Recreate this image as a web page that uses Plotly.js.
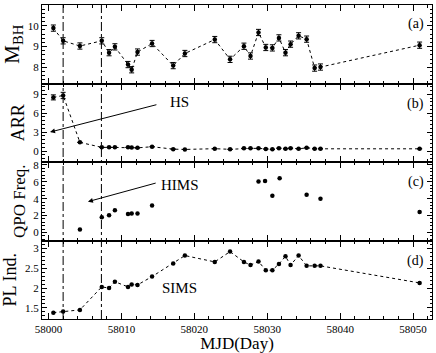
<!DOCTYPE html>
<html>
<head>
<meta charset="utf-8">
<script src="https://cdn.plot.ly/plotly-3.0.1.min.js"></script>
<style>
  body { margin: 0; background: #fff; }
  #plot { width: 436px; height: 353px; }
</style>
</head>
<body>
<div id="plot"></div>
<script>
// MJD of each observation (panels a, b, d)
const mjd = [58000.66, 58002.0, 58004.3, 58007.3, 58008.3, 58009.1, 58010.9, 58011.4, 58012.2,
  58014.2, 58017.1, 58018.7, 58022.8, 58024.9, 58026.8, 58027.7, 58028.8, 58029.8, 58030.7,
  58031.6, 58032.5, 58033.2, 58034.3, 58035.4, 58036.5, 58037.3, 58050.9];
const mass = [9.89, 9.28, 9.03, 9.28, 8.71, 8.99, 8.14, 7.89, 8.74, 9.15, 8.09, 8.67, 9.34,
  8.39, 9.02, 8.55, 9.68, 8.96, 8.94, 9.42, 8.71, 9.12, 9.52, 9.36, 7.97, 8.02, 9.07];
const massErr = [0.15, 0.15, 0.15, 0.15, 0.15, 0.15, 0.15, 0.15, 0.15, 0.15, 0.15, 0.15, 0.15,
  0.15, 0.15, 0.15, 0.15, 0.15, 0.15, 0.15, 0.15, 0.15, 0.15, 0.15, 0.15, 0.15, 0.15];
const arr = [8.5, 8.8, 1.37, 0.58, 0.58, 0.58, 0.58, 0.55, 0.5, 0.68, 0.3, 0.25, 0.37, 0.27,
  0.42, 0.42, 0.42, 0.32, 0.27, 0.45, 0.35, 0.45, 0.35, 0.5, 0.35, 0.35, 0.35];
const arrErr = [0.4, 0.5, 0, 0, 0, 0, 0, 0, 0, 0, 0, 0, 0, 0, 0, 0, 0, 0, 0, 0, 0, 0, 0, 0, 0, 0, 0];
const plInd = [1.38, 1.41, 1.45, 2.03, 2.0, 2.16, 2.03, 2.09, 2.08, 2.29, 2.62, 2.82, 2.66,
  2.92, 2.66, 2.58, 2.67, 2.45, 2.45, 2.61, 2.8, 2.58, 2.82, 2.56, 2.56, 2.56, 2.13];

// QPO detections only
const qpoMjd = [58004.3, 58007.3, 58008.3, 58009.1, 58010.9, 58011.4, 58012.2, 58014.2,
  58028.8, 58029.7, 58030.7, 58031.7, 58035.4, 58037.3, 58050.9];
const qpoFreq = [0.35, 1.8, 2.04, 2.63, 2.2, 2.25, 2.25, 3.2, 6.04, 6.1, 4.35, 6.43, 4.47, 4.0, 2.43];

// state transitions
const transitions = [58002.0, 58007.25];

const font = "Liberation Serif, Times New Roman, serif";
const marker = { color: "black", size: 4.5 };
const dotted = { color: "black", width: 1, dash: "dot" };

const traces = [
  {
    x: mjd, y: mass, type: "scatter", mode: "lines+markers",
    marker: marker, line: dotted,
    error_y: { type: "data", array: massErr, color: "black", thickness: 1, width: 2.5 },
    xaxis: "x", yaxis: "y",
  },
  {
    x: mjd, y: arr, type: "scatter", mode: "lines+markers",
    marker: marker, line: dotted,
    error_y: { type: "data", array: arrErr, color: "black", thickness: 1, width: 2.5 },
    xaxis: "x2", yaxis: "y2",
  },
  {
    x: qpoMjd, y: qpoFreq, type: "scatter", mode: "markers",
    marker: marker,
    xaxis: "x3", yaxis: "y3",
  },
  {
    x: mjd, y: plInd, type: "scatter", mode: "lines+markers",
    marker: marker, line: dotted,
    xaxis: "x4", yaxis: "y4",
  },
];

const xBase = {
  range: [57999.1, 58052.6],
  dtick: 10,
  tickformat: "d",
  ticks: "inside",
  ticklen: 6,
  tickcolor: "black",
  showline: true,
  linecolor: "black",
  linewidth: 1,
  mirror: "allticks",
  showgrid: false,
  zeroline: false,
  minor: { dtick: 2, ticks: "inside", ticklen: 3, tickcolor: "black" },
  tickfont: { family: font, size: 11, color: "black" },
};

function yAxis(range, dtick, minorDtick, domain, title, anchor, size) {
  return {
    range: range,
    dtick: dtick,
    domain: domain,
    anchor: anchor,
    ticks: "inside",
    ticklen: 5,
    tickcolor: "black",
    showline: true,
    linecolor: "black",
    mirror: "allticks",
    showgrid: false,
    zeroline: false,
    minor: { dtick: minorDtick, ticks: "inside", ticklen: 2.5, tickcolor: "black" },
    tickfont: { family: font, size: 11, color: "black" },
    title: { text: title, font: { family: font, size: size, color: "black" }, standoff: 3 },
  };
}

const shapes = transitions.map((t) => ({
  type: "line", xref: "x", yref: "paper", x0: t, x1: t, y0: 0, y1: 1,
  line: { color: "black", width: 1, dash: "dashdot" },
}));

const labels = ["(a)", "(b)", "(c)", "(d)"];
const labelY = [0.97, 0.718, 0.467, 0.215];
const annotations = labels.map((l, i) => ({
  text: l, xref: "paper", yref: "paper", x: 0.985, y: labelY[i],
  xanchor: "right", yanchor: "top", showarrow: false,
  font: { family: font, size: 14, color: "black" },
}));

annotations.push(
  {
    text: "", xref: "x2", yref: "y2", axref: "x2", ayref: "y2",
    x: 58000.2, y: 3.0, ax: 58015.0, ay: 7.4,
    showarrow: true, arrowhead: 2, arrowsize: 1, arrowwidth: 1, arrowcolor: "black",
  },
  {
    text: "HS", xref: "x2", yref: "y2", x: 58018.0, y: 7.7,
    showarrow: false, font: { family: font, size: 15, color: "black" },
  },
  {
    text: "", xref: "x3", yref: "y3", axref: "x3", ayref: "y3",
    x: 58005.4, y: 3.65, ax: 58014.9, ay: 5.9,
    showarrow: true, arrowhead: 2, arrowsize: 1, arrowwidth: 1, arrowcolor: "black",
  },
  {
    text: "HIMS", xref: "x3", yref: "y3", x: 58018.0, y: 5.6,
    showarrow: false, font: { family: font, size: 15, color: "black" },
  },
  {
    text: "SIMS", xref: "x4", yref: "y4", x: 58018.0, y: 2.01,
    showarrow: false, font: { family: font, size: 15, color: "black" },
  }
);

const layout = {
  width: 436,
  height: 353,
  margin: { l: 42, r: 4, t: 5, b: 34 },
  paper_bgcolor: "white",
  plot_bgcolor: "white",
  showlegend: false,
  xaxis: Object.assign({}, xBase, { anchor: "y", showticklabels: false }),
  xaxis2: Object.assign({}, xBase, { anchor: "y2", matches: "x", showticklabels: false }),
  xaxis3: Object.assign({}, xBase, { anchor: "y3", matches: "x", showticklabels: false }),
  xaxis4: Object.assign({}, xBase, {
    anchor: "y4", matches: "x",
    title: { text: "MJD(Day)", font: { family: font, size: 17, color: "black" }, standoff: 3 },
  }),
  yaxis: yAxis([7.23, 11], 1, 0.2, [0.75, 1], "M<sub>BH</sub>", "x", 21),
  yaxis2: yAxis([-1.74, 10.7], 3, 0.6, [0.5, 0.75], "ARR", "x2", 18),
  yaxis3: yAxis([-0.95, 8.35], 2, 0.4, [0.25, 0.5], "QPO Freq.", "x3", 17),
  yaxis4: yAxis([1.22, 3.2], 0.5, 0.1, [0, 0.25], "PL Ind.", "x4", 18),
  shapes: shapes,
  annotations: annotations,
};

Plotly.newPlot("plot", traces, layout, { displayModeBar: false, staticPlot: true });
</script>
</body>
</html>
